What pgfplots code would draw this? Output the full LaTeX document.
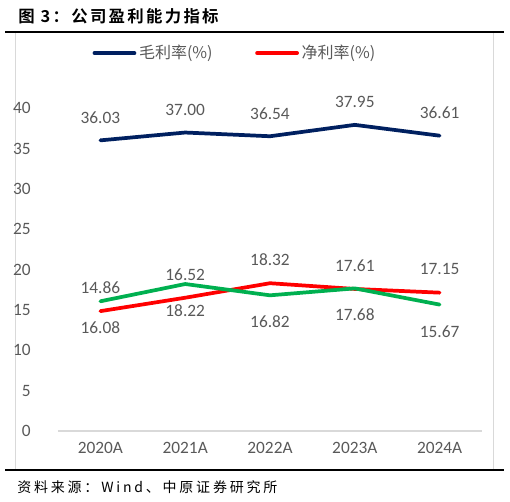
\documentclass[border=0pt]{standalone}
\usepackage{fontspec}
\setmainfont{Carlito}
\newfontfamily\cjk{Noto Sans CJK SC}
\newfontfamily\cjkb[LetterSpace=14]{Noto Sans CJK SC Bold}
\newfontfamily\cjks[LetterSpace=20]{Noto Sans CJK SC}
\usepackage{pgfplots}
\pgfplotsset{compat=1.18}
\definecolor{navy}{HTML}{002060}
\definecolor{myred}{HTML}{FF0000}
\definecolor{mygreen}{HTML}{00B050}
\definecolor{txt}{HTML}{595959}
\definecolor{frame}{HTML}{D9D9D9}
\begin{document}
\begin{tikzpicture}
\begin{scope}[x=0.75pt,y=-0.75pt]
\path (0,0) rectangle (510,502);
% title and rules
\node[anchor=west,inner sep=0pt] at (18,16) {\fontsize{12.3pt}{13pt}\cjkb 图 3：公司盈利能力指标};
\draw[frame] (15.5,32) rectangle (493,470);
\draw[line width=2pt] (5,32) -- (504,32);
\draw[line width=2pt] (5,470) -- (504,470);
\node[anchor=west,inner sep=0pt] at (17,487) {\fontsize{10.5pt}{12pt}\cjks 资料来源：Wind、中原证券研究所};
\end{scope}
\begin{axis}[
    at={(43.5pt,-323.25pt)}, anchor=south west,
    scale only axis, width=318pt, height=272.25pt,
    xmin=-0.5, xmax=4.5, ymin=0, ymax=45,
    xtick={0,1,2,3,4},
    xticklabels={2020A,2021A,2022A,2023A,2024A},
    ytick={0,5,...,40},
    axis y line*=left, axis x line*=bottom,
    y axis line style={draw=none},
    x axis line style={frame, line width=0.8pt, -},
    tick style={draw=none},
    tick label style={font=\fontsize{13pt}{14pt}\selectfont, text=txt},
    yticklabel style={xshift=-17pt},
    xticklabel style={yshift=-5pt},
    clip=false,
    /pgf/number format/assume math mode=true,
    nodes near coords={\pgfmathprintnumber[fixed,fixed zerofill,precision=2]{\pgfplotspointmeta}},
    every node near coord/.append style={font=\fontsize{13pt}{14pt}\selectfont, text=txt, anchor=center},
    legend columns=2,
    legend style={draw=none, fill=none, at={(0.418,1.041)}, anchor=center,
        font=\fontsize{12pt}{14pt}\cjk, text=txt,
        /tikz/every even column/.append style={column sep=30pt}},
    legend image code/.code={\draw[#1] (0pt,0pt) -- (30pt,0pt);},
]
\addplot[navy, line width=2.8pt, line cap=round, every node near coord/.append style={yshift=17pt}] coordinates {
    (0,36.03) (1,37.00) (2,36.54) (3,37.95) (4,36.61)
};
\addlegendentry{毛利率(\%)}
\addplot[myred, line width=2.8pt, line cap=round, every node near coord/.append style={yshift=17.5pt}] coordinates {
    (0,14.86) (1,16.52) (2,18.32) (3,17.61) (4,17.15)
};
\addlegendentry{净利率(\%)}
\addplot[mygreen, line width=2.8pt, line cap=round, every node near coord/.append style={yshift=-20pt}, forget plot] coordinates {
    (0,16.08) (1,18.22) (2,16.82) (3,17.68) (4,15.67)
};
\end{axis}
\end{tikzpicture}
\end{document}
